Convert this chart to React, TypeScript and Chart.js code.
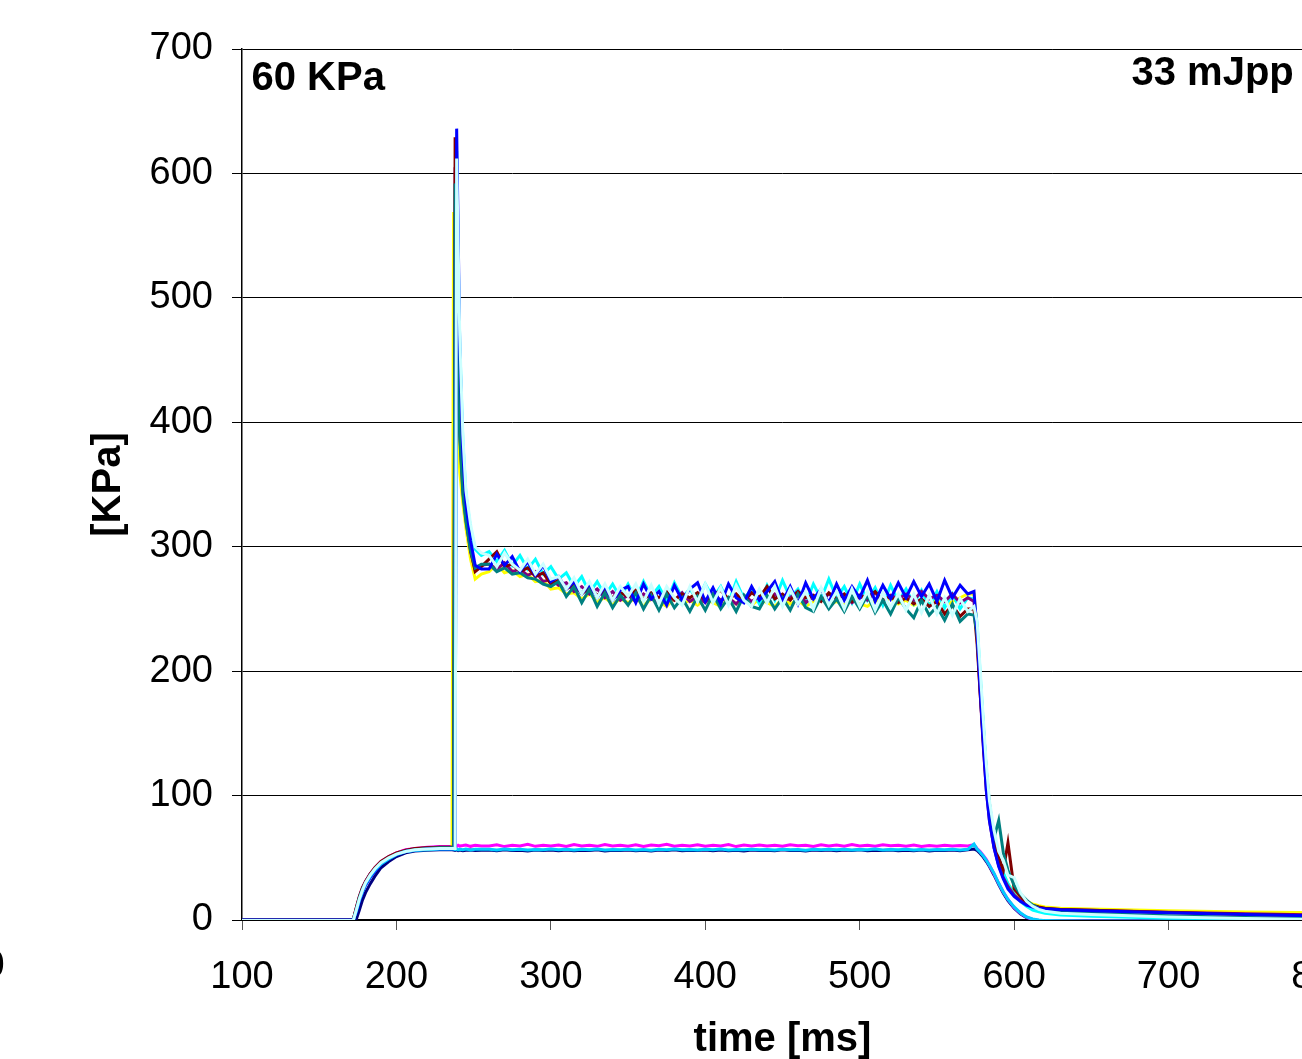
import React, { useEffect, useRef } from "react";
import { Chart, registerables } from "chart.js";

Chart.register(...registerables);

// ---------------- DATA ----------------
const timeMs = [
  100, 170, 172, 174, 176, 178, 180, 183, 186, 190, 195, 200, 206, 212, 220, 228, 236,
  237, 238, 239, 240, 241, 243, 245, 248, 251, 255,
  260, 265, 270, 275, 280, 285, 290, 295, 300,
  305, 310, 315, 320, 325, 330, 335, 340, 345,
  350, 355, 360, 365, 370, 375, 380, 385, 390,
  395, 400, 405, 410, 415, 420, 425, 430, 435,
  440, 445, 450, 455, 460, 465, 470, 475, 480,
  485, 490, 495, 500, 505, 510, 515, 520, 525,
  530, 535, 540, 545, 550, 555, 560, 565, 570,
  574, 576, 578, 580, 582, 584, 587, 590, 593, 596, 600, 604, 608, 612, 616, 620, 630, 650, 700, 750, 800,
];

const navySeries = [
  0, 0, 0, 0.5, 8, 16, 22, 29, 35, 42, 47, 51, 54, 55.5, 56, 56.5, 56.5,
  56.3, 56, 56.4, 55.8, 56.2, 55.7, 56.1, 56.3, 55.8, 56,
  56.2, 55.6, 56.4, 55.8, 56.1, 55.5, 56.3, 55.9, 56.2,
  55.7, 56.3, 55.6, 56.1, 55.8, 56.4, 55.5, 56, 55.8,
  56.3, 55.7, 56.1, 55.5, 56.2, 55.9, 56.4, 55.6, 56,
  55.8, 56.3, 55.6, 56.2, 55.7, 56, 55.5, 56.3, 55.9,
  56.1, 55.6, 56.4, 55.8, 56, 55.5, 56.2, 55.9, 56.3,
  55.7, 56.2, 55.8, 56.4, 55.6, 56.1, 55.9, 56.3, 55.6,
  56, 55.7, 56.2, 55.5, 56.1, 55.8, 56.3, 55.6, 56.4,
  57, 56, 53.5, 50.5, 47, 43, 36, 28.5, 21.5, 15.5, 9.5, 5, 2, 0.3, -0.5, -0.8, -0.8, -0.8, -0.8, -0.8, -0.8,
];

const magentaSeries = [
  0, 0, 0, 10, 19, 26, 31, 37, 42, 47, 51, 54, 56.5, 57.5, 58.5, 59, 59,
  59.2, 59.6, 59, 60.1, 59.4, 59.8, 60.3, 59.2, 60, 59.5,
  59.5, 60.5, 59, 60, 59.5, 60.8, 59.2, 60, 59.4,
  60.3, 59.1, 60.6, 59.4, 60, 59.2, 60.7, 59.5, 60.1,
  59.3, 60.4, 59, 60.2, 59.6, 60.8, 59.3, 60, 59.5,
  60.5, 59.2, 60.1, 59.4, 60.6, 59, 60.2, 59.5, 60.3,
  59.4, 60.1, 59.2, 60.5, 59.6, 60, 59.1, 60.4, 59.5,
  60.2, 59.3, 60.6, 59.4, 60, 59.2, 60.4, 59.6, 60.1,
  59.3, 60.2, 59, 59.8, 59.2, 60.1, 59.4, 59.8, 59.5,
  60.5, 57.5, 55, 52, 48.5, 44, 37, 29.5, 22.5, 16.5, 10, 5.5, 2.2, 0.5, -0.3, -0.6, -0.8, -0.8, -0.8, -0.8, -0.8,
];

const yellowSeries = [
  0, 0, 0, 9, 18, 25, 30, 36, 41, 46, 50, 53, 55.5, 56.5, 57.5, 58, 58,
  569, 480, 420, 385, 360, 335, 315, 290, 274, 278,
  280, 286, 279, 281, 276, 278, 272, 273, 266,
  267, 262, 263, 258, 262, 256, 259, 254, 258,
  255, 259, 253, 258, 256, 252, 259, 254, 257,
  253, 258, 255, 252, 259, 254, 257, 253, 258,
  255, 252, 258, 254, 257, 252, 256, 259, 253,
  256, 253, 258, 254, 252, 257, 255, 259, 254,
  257, 253, 256, 254, 258, 252, 256, 259, 262,
  262, 235, 188, 145, 108, 84, 62, 47, 37, 29, 22, 18, 15, 13, 11.5, 10.5, 9.5, 8.8, 7.5, 6.5, 5.8,
];

const cyanSeries = [
  -0.5, -0.5, -0.5, 8, 17, 24, 30, 36, 41, 46, 50, 53, 55, 56, 57, 57.5, 57.5,
  57.5, 57.5, 618, 535, 465, 385, 342, 315, 298, 293,
  296, 288, 297, 285, 293, 282, 290, 278, 284,
  274, 279, 268, 276, 263, 272, 261, 270, 259,
  270, 258, 272, 260, 268, 256, 271, 259, 266,
  257, 270, 259, 268, 255, 272, 258, 266, 254,
  269, 257, 273, 259, 266, 254, 270, 258, 274,
  259, 268, 255, 270, 257, 267, 253, 269, 256,
  266, 254, 265, 252, 264, 251, 262, 250, 259,
  258, 238, 198, 158, 118, 90, 66, 50, 38, 29, 21, 15, 11, 8, 6.5, 5.5, 4, 3, 1.5, 0.5, -0.5,
];

const purpleSeries = [
  0, 0, 0, 9, 18, 25, 31, 37, 41, 46, 50, 53, 55.5, 57, 58, 58.5, 58.5,
  58.5, 605, 510, 440, 392, 345, 322, 296, 281, 285,
  286, 282, 287, 280, 282, 277, 280, 272, 274,
  269, 271, 264, 268, 262, 266, 259, 264, 257,
  261, 256, 262, 258, 255, 261, 257, 263, 256,
  260, 255, 262, 257, 259, 254, 261, 256, 260,
  257, 262, 256, 259, 264, 255, 260, 257, 262,
  258, 261, 255, 260, 257, 263, 256, 261, 258,
  262, 257, 264, 258, 261, 256, 262, 255, 259,
  256, 228, 182, 140, 104, 80, 58, 44, 34, 27, 20, 16, 13, 11, 10, 9, 8.5, 7.8, 6.3, 5, 4,
];

const maroonSeries = [
  0, 0, 0, 10, 19, 26, 31, 37, 42, 47, 51, 54, 56, 57.5, 58, 58.5, 58.5,
  58.5, 629, 530, 450, 400, 350, 325, 298, 280, 284,
  290, 296, 284, 286, 280, 283, 276, 279, 270,
  273, 266, 270, 262, 267, 261, 265, 259, 263,
  260, 265, 258, 263, 259, 264, 257, 262, 259,
  263, 257, 261, 265, 258, 262, 256, 263, 259,
  268, 258, 262, 257, 264, 259, 261, 256, 263,
  258, 262, 256, 261, 259, 264, 257, 260, 255,
  259, 254, 258, 252, 256, 246, 253, 244, 250,
  250, 222, 182, 145, 110, 86, 64, 50, 40, 62, 25, 19, 14, 12, 10.5, 9.5, 8.5, 7.8, 6, 4.5, 3.5,
];

const tealSeries = [
  0, 0, 0, 9, 18, 25, 30, 36, 41, 46, 50, 53, 55.5, 56.5, 57.5, 58, 58,
  58, 592, 500, 432, 388, 342, 320, 297, 283, 286,
  286, 280, 283, 278, 279, 275, 274, 270, 268,
  272, 260, 268, 255, 266, 252, 263, 251, 261,
  253, 263, 250, 261, 249, 262, 251, 259, 248,
  260, 249, 262, 250, 259, 248, 261, 252, 250,
  261, 250, 259, 249, 262, 251, 248, 260, 250,
  258, 248, 260, 250, 261, 247, 257, 246, 259,
  250, 243, 257, 245, 252, 241, 254, 240, 246,
  245, 230, 194, 156, 120, 94, 66, 80, 54, 40, 28, 21, 16, 12, 9.5, 8, 6.5, 5.5, 3.5, 2, 1,
];

const blueSeries = [
  0, 0, 0, 6, 15, 22, 28, 34, 39, 45, 49, 52.5, 55, 56, 57, 57, 57,
  57, 57, 636, 550, 460, 375, 335, 305, 285, 282,
  282, 294, 285, 292, 280, 288, 277, 285, 272,
  276, 266, 272, 262, 270, 259, 268, 257, 265,
  268, 255, 270, 258, 264, 253, 269, 257, 266,
  271, 256, 267, 254, 270, 259, 255, 268, 257,
  264, 272, 256, 268, 254, 271, 258, 266, 255,
  270, 257, 268, 259, 273, 256, 269, 258, 271,
  259, 272, 260, 270, 256, 273, 259, 269, 262,
  264, 232, 185, 142, 104, 80, 58, 43, 33, 25, 19, 15, 12, 10.5, 9.5, 9, 8.3, 7.5, 5.8, 4.5, 3.3,
];

const skyBlueSeries = [
  -0.5, -0.5, -0.5, 7, 16, 23, 29, 35, 40, 45, 49, 52.5, 55, 56, 56.5, 57, 57,
  57, 56.6, 57.1, 56.4, 56.9, 56.5, 57, 56.3, 56.8, 56.9,
  56.8, 56.3, 57, 56.4, 56.9, 56.2, 56.7, 56.5, 57.1,
  56.4, 56.9, 56.2, 56.8, 56.5, 57, 56.3, 56.7, 56.4,
  56.9, 56.3, 56.7, 56.1, 56.8, 56.4, 57, 56.5, 56.6,
  56.3, 56.8, 56.5, 57, 56.2, 56.7, 56.4, 56.9, 56.5,
  56.7, 56.2, 56.9, 56.4, 56.6, 56.1, 56.8, 56.5, 56.9,
  56.4, 56.8, 56.3, 56.7, 56.5, 57, 56.2, 56.6, 56.4,
  56.8, 56.3, 56.6, 56.2, 56.7, 56.4, 56.9, 56.3, 56.8,
  61, 57, 54.5, 51.5, 48, 44, 37.5, 29.5, 22.5, 16.5, 10.5, 5.8, 2.5, 0.8, 0, -0.5, -0.7, -0.8, -0.8, -0.8, -0.8,
];

const lightCyanSeries = [
  -0.5, -0.5, -0.5, 8, 17, 24, 30, 36, 41, 46, 50, 53, 55, 56.5, 57, 57.5, 57.5,
  57.5, 57.5, 612, 540, 470, 390, 345, 318, 300, 295,
  293, 284, 295, 286, 281, 290, 278, 286, 274,
  276, 266, 275, 262, 272, 259, 270, 257, 268,
  260, 270, 256, 269, 254, 268, 259, 253, 268,
  256, 270, 255, 267, 253, 269, 257, 252, 266,
  255, 268, 252, 266, 254, 264, 250, 267, 253,
  264, 250, 266, 252, 264, 249, 263, 251, 262,
  249, 262, 247, 261, 246, 259, 245, 258, 248,
  252, 240, 202, 162, 125, 96, 72, 55, 48, 36, 34, 22, 15, 11, 8.5, 7, 5.5, 4.5, 2.5, 1.2, 0.5,
];

const seriesNames = ["1", "2", "3", "4", "5", "6", "7", "8", "9", "10"];
const seriesColors = [
  "#000080", "#FF00FF", "#FFFF00", "#00FFFF", "#800080",
  "#800000", "#008080", "#0000FF", "#00CCFF", "#CCFFFF",
];
const seriesValues = [
  navySeries, magentaSeries, yellowSeries, cyanSeries, purpleSeries,
  maroonSeries, tealSeries, blueSeries, skyBlueSeries, lightCyanSeries,
];

const xMin = 100;
const xMax = 800;
const xStep = 100;
const yMin = 0;
const yMax = 700;
const yStep = 100;

const xTitle = "time [ms]";
const yTitle = "[KPa]";
const leftNote = "60 KPa";
const rightNote = "33 mJpp";
const strayLabel = "0";

// ---------------- CHART ----------------
const FONT = '"Liberation Sans", Arial, Helvetica, sans-serif';
const CANVAS_W = 1420;
const CANVAS_H = 1080;

const notesPlugin = {
  id: "notes",
  afterDraw(chart: any) {
    const ctx = chart.ctx;
    const a = chart.chartArea;
    ctx.save();
    ctx.fillStyle = "#000";
    ctx.textBaseline = "alphabetic";
    ctx.textAlign = "left";
    ctx.font = `bold 40px ${FONT}`;
    ctx.fillText(leftNote, a.left + 9.5, a.top + 41);
    ctx.fillText(rightNote, a.left + 889.5, a.top + 36);
    ctx.font = `38px ${FONT}`;
    ctx.fillText(strayLabel, -16.5, 977);
    ctx.restore();
  },
};

export default function App() {
  const ref = useRef<HTMLCanvasElement | null>(null);

  useEffect(() => {
    if (!ref.current) return;
    const datasets = seriesValues.map((vals, i) => ({
      label: seriesNames[i],
      data: vals.map((v, j) => ({ x: timeMs[j], y: v })),
      borderColor: seriesColors[i],
      backgroundColor: seriesColors[i],
      borderWidth: 3,
      pointRadius: 0,
      tension: 0,
      fill: false,
      order: -i,
    }));

    const chart = new Chart(ref.current, {
      type: "line",
      data: { datasets },
      plugins: [notesPlugin],
      options: {
        animation: false,
        responsive: false,
        devicePixelRatio: 1,
        layout: { padding: { left: 0, top: 49, right: CANVAS_W - 1323, bottom: 0 } },
        plugins: {
          legend: { display: false },
          tooltip: { enabled: false },
        },
        scales: {
          x: {
            type: "linear",
            min: xMin,
            max: xMax,
            afterFit: (s: any) => {
              s.height = CANVAS_H - 920;
            },
            ticks: {
              stepSize: xStep,
              color: "#000",
              font: { family: FONT, size: 38 },
              padding: 25,
              maxRotation: 0,
            },
            grid: {
              drawOnChartArea: false,
              drawTicks: true,
              tickLength: 10,
              color: "#555",
              lineWidth: 1,
            },
            border: { display: true, color: "#000", width: 2 },
            title: {
              display: true,
              text: xTitle,
              color: "#000",
              font: { family: FONT, size: 40, weight: "bold" },
              padding: { top: 0, bottom: 16 },
            },
          },
          y: {
            type: "linear",
            min: yMin,
            max: yMax,
            afterFit: (s: any) => {
              s.width = 242;
            },
            ticks: {
              stepSize: yStep,
              color: "#000",
              font: { family: FONT, size: 38 },
              padding: 19,
            },
            grid: {
              drawOnChartArea: true,
              drawTicks: true,
              tickLength: 10,
              color: "#000",
              lineWidth: 1,
            },
            border: { display: true, color: "#000", width: 1.5 },
            title: {
              display: true,
              text: yTitle,
              color: "#000",
              font: { family: FONT, size: 40, weight: "bold" },
              padding: { top: 85, bottom: 0 },
            },
          },
        },
      },
    } as any);
    return () => chart.destroy();
  }, []);

  return (
    <div
      style={{
        position: "absolute",
        left: 0,
        top: 0,
        width: 1302,
        height: 1059,
        overflow: "hidden",
        background: "#fff",
      }}
    >
      <canvas
        ref={ref}
        width={CANVAS_W}
        height={CANVAS_H}
        style={{ display: "block", width: CANVAS_W, height: CANVAS_H }}
      />
    </div>
  );
}
